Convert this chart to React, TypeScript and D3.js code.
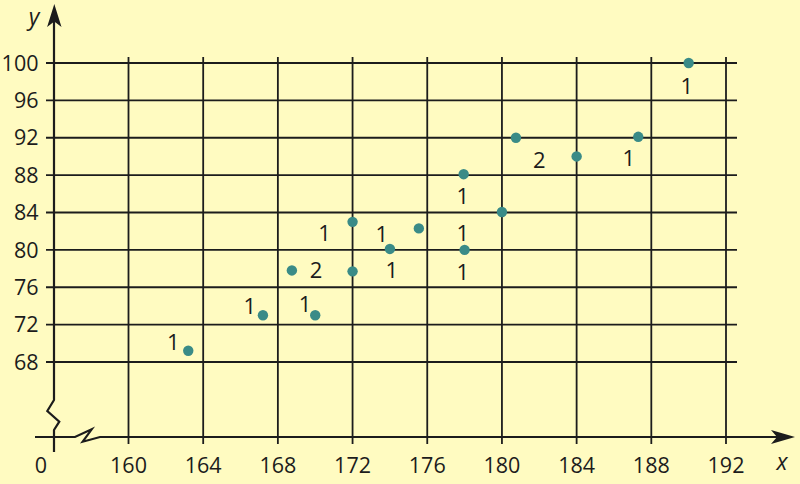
import React from "react";
import * as d3 from "d3";

const xTicks = [160, 164, 168, 172, 176, 180, 184, 188, 192];
const yTicks = [68, 72, 76, 80, 84, 88, 92, 96, 100];
const pointX = [163.2, 167.2, 168.75, 170.0, 172.0, 172.0, 174.0, 175.55, 177.95, 178.0, 180.0, 180.75, 184.0, 187.3, 190.0];
const pointY = [69.2, 73.0, 77.8, 73.0, 83.0, 77.7, 80.1, 82.3, 88.1, 80.0, 84.05, 92.0, 90.0, 92.1, 100.0];
const labelText = ["1", "1", "2", "1", "1", "1", "1", "1", "1", "1", "2", "1", "1"];
const labelX = [162.4, 166.5, 170.05, 169.45, 170.5, 173.56, 174.1, 177.9, 177.9, 177.9, 182.0, 186.8, 189.9];
const labelY = [70.1, 74.0, 77.8, 74.2, 81.8, 81.7, 77.8, 85.8, 81.8, 77.6, 89.6, 89.8, 97.5];

export default function App() {
  const W = 800, H = 484;
  const x = d3.scaleLinear().domain([160, 192]).range([128.5, 726]);
  const y = d3.scaleLinear().domain([68, 100]).range([362, 63]);
  const axisY = 437;
  const axisX = 54;
  const ink = "#1c1c1c";
  const font = "'Open Sans', 'Noto Sans', sans-serif";

  const yAxisPath = d3.line()([
    [axisX, 20], [axisX, 400], [47.3, 411], [59.3, 421.7], [axisX, 430], [axisX, 452],
  ]);
  const xAxisPath = d3.line()([
    [35, axisY], [75, axisY], [91.7, 429.3], [82.7, 441.7], [100, axisY], [780, axisY],
  ]);

  return (
    <svg width={W} height={H} style={{ position: "absolute", left: 0, top: 0 }}>
      <rect width={W} height={H} fill="#fffbc1" />
      {xTicks.map((t) => (
        <line key={"vx" + t} x1={x(t)} x2={x(t)} y1={57} y2={444} stroke={ink} strokeWidth={1.8} />
      ))}
      {yTicks.map((t) => (
        <line key={"hy" + t} x1={46} x2={737} y1={y(t)} y2={y(t)} stroke={ink} strokeWidth={1.8} />
      ))}
      <path d={yAxisPath || ""} fill="none" stroke={ink} strokeWidth={2.2} strokeLinejoin="miter" />
      <path d={xAxisPath || ""} fill="none" stroke={ink} strokeWidth={2.2} strokeLinejoin="miter" />
      <path d="M54.3,4 L61.5,27 L54.3,21.5 L47.1,27 Z" fill={ink} />
      <path d="M795,437 L771,430 L777,437 L771,444 Z" fill={ink} />
      {yTicks.map((t) => (
        <text key={"ly" + t} x={38.5} y={y(t)} dy="0.36em" textAnchor="end" fontSize={21.5} fontFamily={font} fill={ink}>
          {t}
        </text>
      ))}
      {xTicks.map((t) => (
        <text key={"lx" + t} x={x(t)} y={472.5} textAnchor="middle" fontSize={21.5} fontFamily={font} fill={ink}>
          {t}
        </text>
      ))}
      <text x={41} y={472.5} textAnchor="middle" fontSize={21.5} fontFamily={font} fill={ink}>0</text>
      <text x={782} y={470} textAnchor="middle" fontSize={23} fontStyle="italic" fontFamily={font} fill={ink}>x</text>
      <text x={34} y={25} textAnchor="middle" fontSize={23} fontStyle="italic" fontFamily={font} fill={ink}>y</text>
      {pointX.map((px, i) => (
        <circle key={"p" + i} cx={x(px)} cy={y(pointY[i])} r={5.2} fill="#3a8b87" />
      ))}
      {labelText.map((s, i) => (
        <text key={"t" + i} x={x(labelX[i])} y={y(labelY[i])} dy="0.36em" textAnchor="middle" fontSize={22} fontFamily={font} fill={ink}>
          {s}
        </text>
      ))}
    </svg>
  );
}
